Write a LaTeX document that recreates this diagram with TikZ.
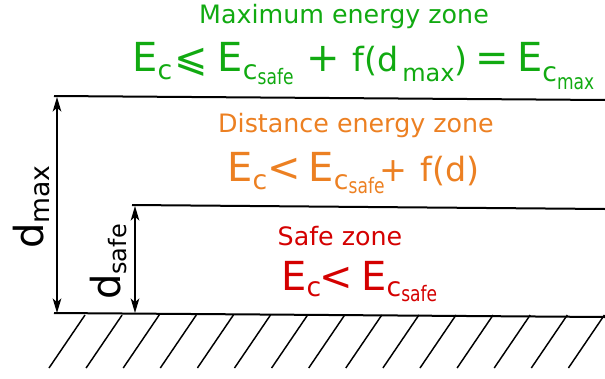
\documentclass[tikz,border=0pt]{standalone}
\usepackage{fontspec}
\setmainfont{DejaVu Sans}
\usetikzlibrary{arrows.meta}

\definecolor{zonegreen}{RGB}{17,170,17}
\definecolor{zoneorange}{RGB}{236,128,34}
\definecolor{zonered}{RGB}{212,0,0}
\newcommand{\fsz}[1]{\fontsize{#1}{#1}\selectfont}
\newcommand{\lowered}[2]{\raisebox{-#1}{#2}}
\newcommand{\subtext}[1]{\scalebox{0.8}[1]{\fsz{16}#1}}

\begin{document}
\begin{tikzpicture}[x=0.75pt,y=-0.75pt,
  level/.style={line width=1.5pt},
  dim/.style={line width=1.1pt,
    {Stealth[length=11pt,width=6.5pt,inset=3pt]}-{Stealth[length=11pt,width=6.5pt,inset=3pt]}},
  hatch/.style={line width=1.1pt},
  zonetitle/.style={anchor=base,inner sep=0pt,font=\fsz{19}},
  formula/.style={anchor=base west,inner sep=0pt,font=\fsz{30}}]
  \useasboundingbox (0,0) rectangle (605,378);

  % levels
  \coordinate (maxL) at (54,96);
  \coordinate (maxR) at (605,100);
  \coordinate (safeL) at (132,205);
  \coordinate (safeR) at (605,209);
  \coordinate (groundL) at (54,313);
  \coordinate (groundR) at (605,317);
  \draw[level] (maxL) -- (maxR);
  \draw[level] (safeL) -- (safeR);
  \draw[level] (groundL) -- (groundR);

  % ground hatching
  \foreach \i in {0,...,14}
    \draw[hatch] (85+37.1*\i,315) -- ++(-36,53);

  % dimensions
  \coordinate (dmaxT) at (57,97);
  \coordinate (dmaxB) at (57,313);
  \coordinate (dsafeT) at (135,206);
  \coordinate (dsafeB) at (135,313);
  \draw[dim] (dmaxT) -- (dmaxB);
  \draw[dim] (dsafeT) -- (dsafeB);
  \node[rotate=90,anchor=base,inner sep=0pt] (dmax) at (43,207)
    {\fsz{30}d\lowered{5pt}{\fsz{20}max}};
  \node[rotate=90,anchor=base,inner sep=0pt] (dsafe) at (120,262)
    {\fsz{30}d\lowered{5pt}{\fsz{18}safe}};

  % zones
  \node[zonetitle,text=zonegreen] (maxzone) at (344,24) {Maximum energy zone};
  \node[formula,text=zonegreen] (maxform) at (132,71)
    {E\lowered{6.5pt}{\fsz{20}c}\hspace{2pt}⩽\hspace{7pt}E\lowered{6.5pt}{\fsz{20}c\lowered{3.75pt}{\subtext{safe}}} + {\fsz{25}f(d\hspace{3pt}\lowered{8pt}{\fsz{18}max})}\hspace{6pt}=\hspace{6pt}E\lowered{8pt}{\fsz{20}c\lowered{6pt}{\subtext{max}}}};

  \node[zonetitle,text=zoneorange] (distzone) at (356,132) {Distance energy zone};
  \node[formula,text=zoneorange] (distform) at (227,181)
    {E\lowered{6pt}{\fsz{20}c}<\hspace{6pt}E\lowered{6pt}{\fsz{20}c\lowered{3pt}{\subtext{safe}}}\hspace{-4pt}{\fsz{25}+\hspace{10pt}f(d)}};

  \node[zonetitle,text=zonered] (safezone) at (340,245) {Safe zone};
  \node[formula,text=zonered] (safeform) at (281,290)
    {E\lowered{5pt}{\fsz{20}c}\hspace{-1pt}<\hspace{6pt}E\lowered{5pt}{\fsz{20}c\lowered{3.75pt}{\subtext{safe}}}};
\end{tikzpicture}
\end{document}
